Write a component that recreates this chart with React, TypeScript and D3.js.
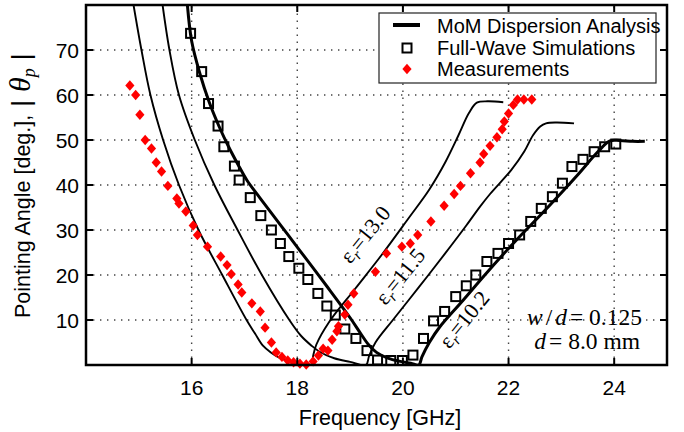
import React from "react";
import * as d3 from "d3";

// ---- data ----
const xTicks = [16, 18, 20, 22, 24];
const yTicks = [10, 20, 30, 40, 50, 60, 70];

const mom130Freq = [14.9, 15.05, 15.22, 15.46, 15.76, 16.13, 16.58, 17.04, 17.2, 17.35, 17.5, 17.65, 17.85, 18.05, 18.27, 18.3, 18.36, 18.6, 19.1, 19.6, 20.1, 20.5, 20.8, 21.05, 21.25, 21.4, 21.6, 21.9];
const mom130Angle = [80, 70, 60, 50, 40, 30, 20, 10, 7, 4.3, 2.8, 1.7, 0.9, 0.4, 0, 2, 4.5, 9.5, 17, 24.5, 32.5, 39, 45, 51, 56, 58.3, 58.6, 58.4];

const mom115Freq = [15.45, 15.58, 15.76, 16.06, 16.43, 16.87, 17.33, 17.85, 18.07, 18.27, 18.43, 18.7, 19.0, 19.3, 19.36, 19.48, 19.81, 20.31, 20.8, 21.2, 21.46, 21.65, 22.05, 22.3, 22.46, 22.6, 22.71, 22.9, 23.24];
const mom115Angle = [80, 70, 60, 50, 40, 30, 20, 10, 6.5, 4.3, 2.9, 1.5, 0.7, 0, 2, 5, 10, 17.4, 24.8, 31, 35.2, 38, 43.3, 47.5, 51, 53, 53.7, 53.9, 53.7];

const mom102Freq = [15.92, 16.0, 16.15, 16.33, 16.52, 16.7, 16.88, 17.05, 17.25, 17.45, 17.8, 18.18, 18.56, 19.0, 19.2, 19.35, 19.5, 19.7, 19.95, 20.15, 20.3, 20.36, 20.5, 20.7, 21.14, 21.58, 22.15, 22.66, 23.29, 23.7, 23.92, 24.1, 24.35, 24.58];
const mom102Angle = [80, 72, 65, 58.5, 53, 48.5, 44.5, 41, 37.8, 34.7, 29.3, 23.4, 17.5, 10.5, 7, 4.5, 2.8, 1.6, 0.8, 0.4, 0, 1.8, 5, 8.5, 14.4, 20.4, 27.8, 34, 42, 47.5, 49.8, 49.9, 49.7, 49.7];

const fwFreq = [15.98, 16.19, 16.32, 16.5, 16.61, 16.81, 16.9, 17.11, 17.31, 17.51, 17.68, 17.84, 18.03, 18.2, 18.39, 18.56, 18.72, 18.9, 19.11, 19.32, 19.52, 19.77, 19.99, 20.19, 20.39, 20.58, 20.79, 21.0, 21.2, 21.38, 21.59, 21.8, 22.0, 22.21, 22.42, 22.62, 22.83, 23.02, 23.2, 23.41, 23.62, 23.82, 24.03];
const fwAngle = [73.7, 65.2, 58.1, 53.1, 48.5, 44.2, 41.1, 37.2, 33.2, 30.0, 27.0, 24.1, 21.5, 19.0, 15.9, 13.1, 11.1, 8.0, 5.9, 3.2, 1.1, 1.0, 1.0, 2.2, 5.9, 9.8, 11.9, 15.2, 17.6, 20.0, 23.0, 24.8, 27.0, 28.9, 31.9, 34.8, 37.4, 40.4, 44.1, 45.7, 47.4, 48.5, 49.1];

const measFreq = [14.83, 14.94, 15.02, 15.12, 15.24, 15.33, 15.43, 15.55, 15.72, 15.76, 15.89, 16.03, 16.11, 16.3, 16.55, 16.67, 16.75, 16.88, 16.95, 17.14, 17.3, 17.39, 17.51, 17.6, 17.71, 17.82, 17.93, 18.05, 18.17, 18.3, 18.4, 18.49, 18.58, 18.66, 18.75, 18.78, 18.9, 18.96, 19.07, 19.48, 19.69, 19.98, 20.14, 20.28, 20.53, 20.78, 20.97, 21.09, 21.28, 21.46, 21.53, 21.65, 21.78, 21.88, 21.92, 22.0, 22.09, 22.17, 22.29, 22.44];
const measAngle = [62.1, 60, 55.6, 50, 48.1, 45, 43, 39.8, 37, 35.9, 34.1, 31, 28.9, 26.3, 24.1, 22.2, 20.2, 17.9, 16.1, 13.7, 11.9, 8.3, 5.0, 2.8, 1.8, 1.0, 0.6, 0.3, 0.1, 0.8, 2.1, 3.6, 3.2, 5.6, 7.5, 8.6, 11.2, 13.4, 15.9, 20.7, 24.8, 26.3, 27, 28.9, 31.9, 35.4, 38, 39.8, 42.6, 45, 46.9, 48.7, 50.6, 52.4, 54.1, 55.9, 57.8, 59, 59, 59];

const legendLabels = ["MoM Dispersion Analysis", "Full-Wave Simulations", "Measurements"];
const epsLabels = ["13.0", "11.5", "10.2"];

// ---- layout ----
const W = 684, H = 432;
const L = 86, R = 667, T = 5, B = 365;

export default function App() {
  const x = d3.scaleLinear().domain([14, 25]).range([L, R]);
  const y = d3.scaleLinear().domain([0, 80]).range([B, T]);
  const line = d3
    .line<[number, number]>()
    .x((d) => x(d[0]))
    .y((d) => y(d[1]))
    .curve(d3.curveCatmullRom.alpha(0.5));
  const pts = (f: number[], a: number[]) => f.map((v, i) => [v, a[i]] as [number, number]);

  const sans = "'Liberation Sans', Arial, Helvetica, sans-serif";
  const serif = "'Liberation Serif', 'Times New Roman', serif";
  const diamond = "M0,-5.2 L4.6,0 L0,5.2 L-4.6,0 Z";

  const annotPos = [
    { cx: 371, cy: 239 },
    { cx: 406, cy: 281 },
    { cx: 470, cy: 324 },
  ];

  return (
    <svg width={W} height={H} style={{ position: "absolute", left: 0, top: 0, background: "#fff" }}>
      <defs>
        <clipPath id="plot">
          <rect x={L} y={T} width={R - L} height={B - T} />
        </clipPath>
      </defs>
      <rect x={0} y={0} width={W} height={H} fill="#fff" />
      {/* grid */}
      <g stroke="#444" strokeWidth={1.4} strokeDasharray="1.4 5.6">
        {xTicks.map((t) => (
          <line key={"gx" + t} x1={x(t)} x2={x(t)} y1={B} y2={T} />
        ))}
        {yTicks.map((t) => (
          <line key={"gy" + t} x1={L} x2={R} y1={y(t)} y2={y(t)} />
        ))}
      </g>
      {/* curves */}
      <g clipPath="url(#plot)" fill="none" stroke="#000" strokeLinejoin="round">
        <path d={line(pts(mom130Freq, mom130Angle)) || ""} strokeWidth={1.9} />
        <path d={line(pts(mom115Freq, mom115Angle)) || ""} strokeWidth={1.9} />
        <path d={line(pts(mom102Freq, mom102Angle)) || ""} strokeWidth={3} />
      </g>
      {/* full-wave squares */}
      <g fill="none" stroke="#000" strokeWidth={2}>
        {fwFreq.map((f, i) => (
          <rect key={"s" + i} x={x(f) - 4.5} y={y(fwAngle[i]) - 4.5} width={9} height={9} />
        ))}
      </g>
      {/* measurements */}
      <g fill="#f00">
        {measFreq.map((f, i) => (
          <path key={"m" + i} d={diamond} transform={`translate(${x(f)},${y(measAngle[i])})`} />
        ))}
      </g>
      {/* annotations */}
      {epsLabels.map((t, i) => {
        const a = annotPos[i];
        return (
          <text
            key={t}
            x={a.cx}
            y={a.cy}
            transform={`rotate(-51, ${a.cx}, ${a.cy})`}
            textAnchor="middle"
            fontFamily={serif}
            fontSize={22}
            fill="#000"
          >
            {"ε"}
            <tspan fontSize={15} fontStyle="italic" dy={4}>r</tspan>
            <tspan dy={-4}>{"=" + t}</tspan>
          </text>
        );
      })}
      <text x={642} y={325} textAnchor="end" fontFamily={serif} fontSize={23.5} fill="#000">
        <tspan fontStyle="italic">w</tspan>
        <tspan dx={3}>/</tspan>
        <tspan dx={3} fontStyle="italic">d</tspan>
        <tspan dx={3}>= 0.125</tspan>
      </text>
      <text x={640} y={349} textAnchor="end" fontFamily={serif} fontSize={23.5} fill="#000">
        <tspan fontStyle="italic">d</tspan>
        <tspan dx={3}>= 8.0 mm</tspan>
      </text>
      {/* legend */}
      <g>
        <rect x={379} y={13} width={277} height={70} fill="#fff" stroke="#222" strokeWidth={1.2} />
        <line x1={393} x2={420} y1={25} y2={25} stroke="#000" strokeWidth={4} />
        <rect x={402.5} y={43.5} width={9} height={9} fill="none" stroke="#000" strokeWidth={2} />
        <path d={diamond} transform="translate(407,69)" fill="#f00" />
        {legendLabels.map((s, i) => (
          <text key={s} x={437} y={33 + i * 21.5} fontFamily={sans} fontSize={20} fill="#000">
            {s}
          </text>
        ))}
      </g>
      {/* frame + ticks */}
      <rect x={L} y={T} width={R - L} height={B - T} fill="none" stroke="#000" strokeWidth={2.5} />
      <g stroke="#000" strokeWidth={2}>
        {xTicks.map((t) => (
          <g key={"tx" + t}>
            <line x1={x(t)} x2={x(t)} y1={B} y2={B - 7} />
            <line x1={x(t)} x2={x(t)} y1={T} y2={T + 7} />
          </g>
        ))}
        {yTicks.map((t) => (
          <g key={"ty" + t}>
            <line x1={L} x2={L + 7} y1={y(t)} y2={y(t)} />
            <line x1={R} x2={R - 7} y1={y(t)} y2={y(t)} />
          </g>
        ))}
      </g>
      {/* tick labels */}
      <g fontFamily={sans} fontSize={21} fill="#000">
        {xTicks.map((t) => (
          <text key={"lx" + t} x={x(t)} y={395} textAnchor="middle">
            {t}
          </text>
        ))}
        {yTicks.map((t) => (
          <text key={"ly" + t} x={79} y={y(t) + 7.5} textAnchor="end">
            {t}
          </text>
        ))}
      </g>
      {/* axis titles */}
      <text x={380} y={425} textAnchor="middle" fontFamily={sans} fontSize={21.5} fill="#000">
        Frequency [GHz]
      </text>
      <text
        x={30}
        y={318}
        transform="rotate(-90, 30, 318)"
        textAnchor="start"
        fontFamily={sans}
        fontSize={21.5}
        fill="#000"
      >
        <tspan>Pointing Angle [deg.],</tspan>
        <tspan dx={8} fontSize={26}>|</tspan>
        <tspan dx={8} fontFamily={serif} fontStyle="italic" fontSize={30}>θ</tspan>
        <tspan fontFamily={serif} fontStyle="italic" fontSize={18} dy={5}>p</tspan>
        <tspan dx={8} dy={-5} fontSize={26}>|</tspan>
      </text>
    </svg>
  );
}
